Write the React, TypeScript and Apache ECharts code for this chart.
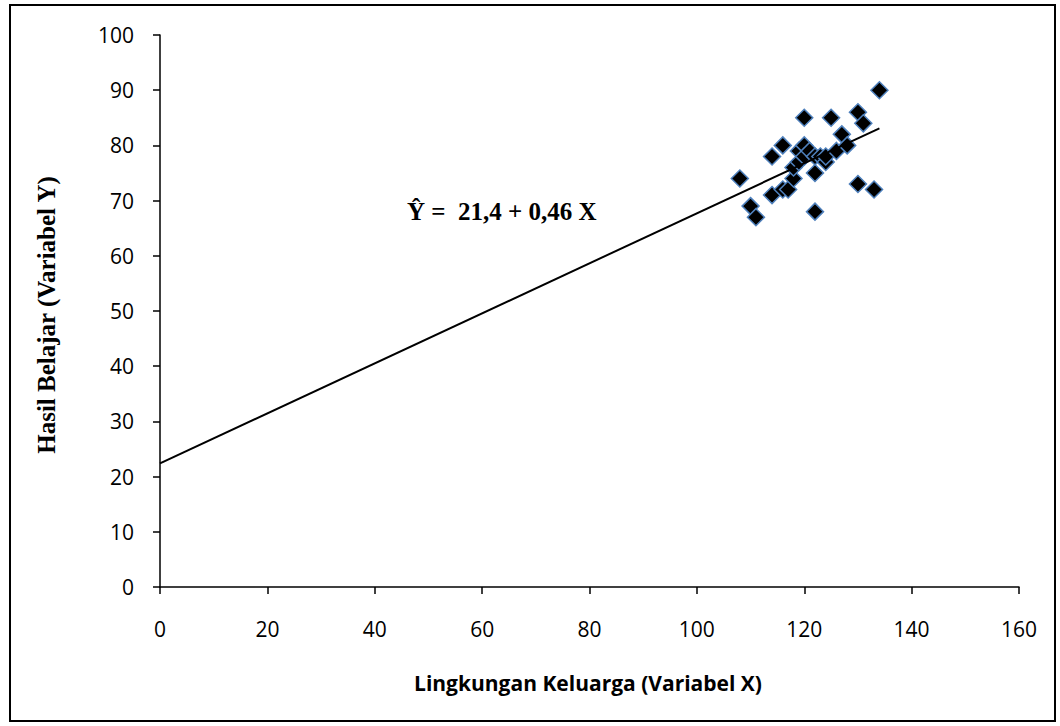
import React, { useEffect, useRef } from "react";
import * as echarts from "echarts";

const points: [number, number][] = [
  [108, 74], [110, 69], [111, 67], [114, 71], [114, 78], [116, 80], [116, 72],
  [117, 72], [118, 74], [118, 76], [119, 77], [119, 79], [120, 80], [120, 85],
  [120, 78], [121, 79], [122, 78], [122, 75], [122, 68], [123, 78], [124, 77],
  [124, 78], [125, 85], [126, 79], [127, 82], [128, 80], [130, 86], [130, 73],
  [131, 84], [133, 72], [134, 90],
];
const regressionLine: [number, number][] = [[0, 22.4], [134, 83.1]];
const equationText = "Ŷ =\u00a0 21,4 + 0,46 X";
const xTitle = "Lingkungan Keluarga (Variabel X)";
const yTitle = "Hasil Belajar (Variabel Y)";

export default function App() {
  const ref = useRef<HTMLDivElement>(null);
  useEffect(() => {
    if (!ref.current) return;
    const chart = echarts.init(ref.current, undefined, { renderer: "svg" });
    const labelFont = { fontFamily: "Open Sans", fontSize: 21, color: "#000" };
    chart.setOption({
      animation: false,
      backgroundColor: "#fff",
      grid: { left: 160, right: 41, top: 35, bottom: 139 },
      xAxis: {
        type: "value", min: 0, max: 160, interval: 20,
        splitLine: { show: false },
        axisLine: { onZero: false, lineStyle: { color: "#000", width: 1.5 } },
        axisTick: { length: 7, lineStyle: { color: "#000", width: 1.5 } },
        axisLabel: { ...labelFont, margin: 31 },
      },
      yAxis: {
        type: "value", min: 0, max: 100, interval: 10,
        splitLine: { show: false },
        axisLine: { show: true, lineStyle: { color: "#000", width: 1.5 } },
        axisTick: { show: true, length: 7, lineStyle: { color: "#000", width: 1.5 } },
        axisLabel: { ...labelFont, margin: 26 },
      },
      graphic: [
        {
          type: "rect", shape: { x: 10, y: 5, width: 1045, height: 716 },
          style: { fill: "none", stroke: "#000", lineWidth: 2 }, silent: true,
        },
        {
          type: "text", x: 588, y: 683,
          style: {
            text: xTitle, fontFamily: "Open Sans", fontWeight: "bold", fontSize: 21,
            fill: "#000", align: "center", verticalAlign: "middle",
          },
        },
        {
          type: "text", x: 46, y: 315, rotation: Math.PI / 2,
          style: {
            text: yTitle, fontFamily: "Liberation Serif", fontWeight: "bold", fontSize: 25,
            fill: "#000", align: "center", verticalAlign: "middle",
          },
        },
        {
          type: "text", x: 407, y: 211,
          style: {
            text: equationText, fontFamily: "Liberation Serif", fontWeight: "bold", fontSize: 25,
            fill: "#000", align: "left", verticalAlign: "middle",
          },
        },
      ],
      series: [
        {
          type: "scatter", data: points, symbol: "diamond", symbolSize: 17,
          itemStyle: { color: "#000", opacity: 1, borderColor: "#4f81bd", borderWidth: 1.5 },
          z: 2,
        },
        {
          type: "line", data: regressionLine, showSymbol: false, symbol: "none",
          lineStyle: { color: "#000", width: 2 }, z: 3,
        },
      ],
    });
    return () => chart.dispose();
  }, []);
  return (
    <div
      ref={ref}
      style={{ position: "fixed", left: 0, top: 0, width: 1060, height: 726, background: "#fff" }}
    />
  );
}
